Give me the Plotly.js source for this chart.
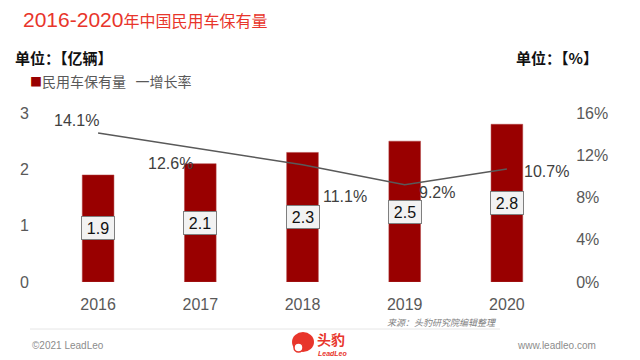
<!DOCTYPE html>
<html><head><meta charset="utf-8">
<script src="https://cdn.plot.ly/plotly-3.0.1.min.js"></script>
<style>html,body{margin:0;padding:0;background:#fff;}#c{width:640px;height:360px;}</style>
</head><body><div id="c"></div>
<script>
const years = ['2016','2017','2018','2019','2020'];
const stock = [1.9, 2.1, 2.3, 2.5, 2.8];
const growth = [14.1, 12.6, 11.1, 9.2, 10.7];
const leftTicks = [0, 1, 2, 3];
const rightTicks = [0, 4, 8, 12, 16];
const rightTickText = ['0%', '4%', '8%', '12%', '16%'];

const FONT = 'Liberation Sans, Arial, Noto Sans CJK SC, sans-serif';
const CJK = 'Noto Sans CJK SC, sans-serif';

const traces = [
  {type:'bar', x:years, y:stock, width:0.31, marker:{color:'#990000', line:{color:'#b04040', width:0.5}},
   hoverinfo:'none', showlegend:false},
  {type:'scatter', mode:'lines', x:years, y:growth, yaxis:'y2',
   line:{color:'#595959', width:1.5}, hoverinfo:'none', showlegend:false}
];

const lineLabelShift = [[-22,13],[-30,-15],[42,-32],[32,-8],[40,-3]];

const annotations = [];
years.forEach((yr,i)=>{
  annotations.push({x:i, y:stock[i]/2, xref:'x', yref:'y', text:stock[i].toFixed(1), showarrow:false,
    font:{family:FONT, size:16, color:'#111'}, bgcolor:'#f2f2f2', bordercolor:'#7f7f7f', borderwidth:1,
    borderpad:2, width:28, height:18});
  annotations.push({x:i, y:growth[i], xref:'x', yref:'y2', text:growth[i].toFixed(1)+'%', showarrow:false,
    xshift:lineLabelShift[i][0], yshift:lineLabelShift[i][1], font:{family:FONT, size:16, color:'#404040'}});
});

const P = (px)=>(px-47)/511, Q = (py)=>(282-py)/169;
annotations.push(
  {xref:'paper', yref:'paper', xanchor:'left', yanchor:'middle', x:P(21), y:Q(20), showarrow:false,
    text:'<span style="font-family:Liberation Sans, Arial, sans-serif;font-size:21px">2016-2020</span>年中国民用车保有量',
    font:{family:CJK, size:16, color:'#e8352b'}},
  {xref:'paper', yref:'paper', xanchor:'left', yanchor:'middle', x:P(13), y:Q(57), showarrow:false,
    text:'<b>单位：【亿辆】</b>', font:{family:CJK, size:15, color:'#111'}},
  {xref:'paper', yref:'paper', xanchor:'right', yanchor:'middle', x:P(600), y:Q(57), showarrow:false,
    text:'<b>单位：【%】</b>', font:{family:CJK, size:15, color:'#111'}},
  {xref:'paper', yref:'paper', xanchor:'left', yanchor:'middle', x:P(28), y:Q(81), showarrow:false,
    text:'<span style="color:#990000;font-size:12px">■</span>民用车保有量&nbsp;&nbsp;&nbsp;<span style="color:#595959">一</span>增长率', font:{family:CJK, size:14, color:'#595959'}},
  {xref:'paper', yref:'paper', xanchor:'right', yanchor:'middle', x:P(499), y:Q(322), showarrow:false,
    text:'<i>来源：头豹研究院编辑整理</i>', font:{family:CJK, size:9, color:'#7f7f7f'}},
  {xref:'paper', yref:'paper', xanchor:'left', yanchor:'middle', x:P(30), y:Q(345), showarrow:false,
    text:'©2021 LeadLeo', font:{family:FONT, size:10, color:'#8c8c8c'}},
  {xref:'paper', yref:'paper', xanchor:'right', yanchor:'middle', x:P(598), y:Q(345), showarrow:false,
    text:'www.leadleo.com', font:{family:FONT, size:10, color:'#8c8c8c'}},
  {xref:'paper', yref:'paper', xanchor:'left', yanchor:'middle', x:P(315), y:Q(339), showarrow:false,
    text:'<b>头豹</b>', font:{family:CJK, size:14, color:'#e8352b'}},
  {xref:'paper', yref:'paper', xanchor:'left', yanchor:'middle', x:P(316), y:Q(353), showarrow:false,
    text:'<b><i>LeadLeo</i></b>', font:{family:FONT, size:7, color:'#e8352b'}}
);

const shapes = [
  {type:'line', xref:'paper', yref:'paper', x0:P(30), x1:P(500), y0:Q(329), y1:Q(329),
   line:{color:'#e6e6e6', width:1}},
  {type:'circle', xref:'paper', yref:'paper', x0:P(292), x1:P(314), y0:Q(332), y1:Q(352),
   fillcolor:'#e8352b', line:{width:0}},
  {type:'circle', xref:'paper', yref:'paper', x0:P(294), x1:P(303), y0:Q(343), y1:Q(352),
   fillcolor:'#ffffff', line:{color:'#e8352b', width:1.5}}
];

const layout = {
  width:640, height:360,
  margin:{l:47, r:82, t:113, b:78},
  paper_bgcolor:'#fff', plot_bgcolor:'#fff',
  showlegend:false,
  xaxis:{type:'category', categoryorder:'array', categoryarray:years, range:[-0.5,4.5], autorange:false,
    showgrid:false, zeroline:false, showline:false,
    ticks:'outside', ticklen:8, tickcolor:'rgba(0,0,0,0)',
    tickfont:{family:FONT, size:16, color:'#595959'}},
  yaxis:{range:[0,3], autorange:false, tickvals:leftTicks, showgrid:false, zeroline:false, showline:false,
    ticks:'outside', ticklen:14, tickcolor:'rgba(0,0,0,0)',
    tickfont:{family:FONT, size:16, color:'#595959'}},
  yaxis2:{range:[0,16], autorange:false, overlaying:'y', side:'right', tickvals:rightTicks, ticktext:rightTickText,
    showgrid:false, zeroline:false, showline:false,
    ticks:'outside', ticklen:14, tickcolor:'rgba(0,0,0,0)',
    tickfont:{family:FONT, size:16, color:'#595959'}},
  annotations:annotations,
  shapes:shapes
};

Plotly.newPlot('c', traces, layout, {staticPlot:true, displayModeBar:false});
</script></body></html>
